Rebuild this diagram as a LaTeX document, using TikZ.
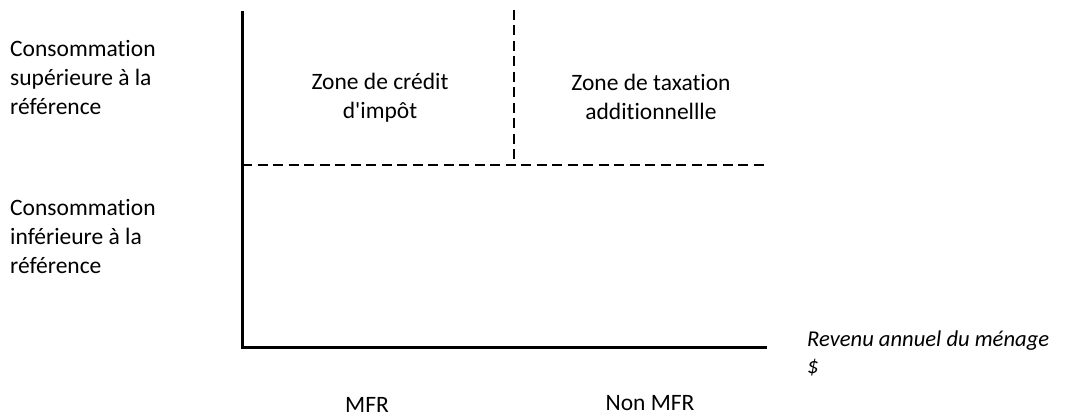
\documentclass[tikz,border=0pt]{standalone}
\usepackage{fontspec}
\setmainfont{Carlito}[Ligatures=NoCommon]
\begin{document}
\begin{tikzpicture}[x=1pt,y=-1pt,
  axisline/.style={line width=3pt},
  dashline/.style={line width=2pt, dash pattern=on 10pt off 5.5pt},
  lbl/.style={font=\fontsize{23.5}{29}\selectfont, inner sep=0pt, align=center},
  lbll/.style={font=\fontsize{23.5}{29}\selectfont, inner sep=0pt, align=left, anchor=west}]
\useasboundingbox (0,0) rectangle (1065,414);
\coordinate (O) at (242,347);
\coordinate (Ytop) at (242,11);
\coordinate (Xend) at (767,347);
\coordinate (Hl) at (242,165);
\coordinate (Hr) at (767,165);
\coordinate (Vt) at (514,10);
\coordinate (Vb) at (514,165);
\draw[axisline] (Ytop) -- (O) -- (Xend);
\draw[dashline] (Hl) -- (Hr);
\draw[dashline] (Vt) -- (Vb);
\node[lbll] (sup) at (10,77) {Consommation\\supérieure à la\\référence};
\node[lbll] (inf) at (10,236) {Consommation\\inférieure à la\\référence};
\node[lbl] (credit) at (380,98) {Zone de crédit\\d\textquotesingle impôt};
\node[lbl] (taxe) at (651,97) {Zone de taxation\\additionnellle};
\node[lbll, font=\fontsize{22.6}{27}\selectfont\itshape] (rev) at (807,353) {Revenu annuel du ménage\\\$};
\node[lbl, anchor=base, text depth=0pt] (mfr) at (367,412) {MFR};
\node[lbl, anchor=base, text depth=0pt] (nmfr) at (650,410) {Non MFR};
\end{tikzpicture}
\end{document}
